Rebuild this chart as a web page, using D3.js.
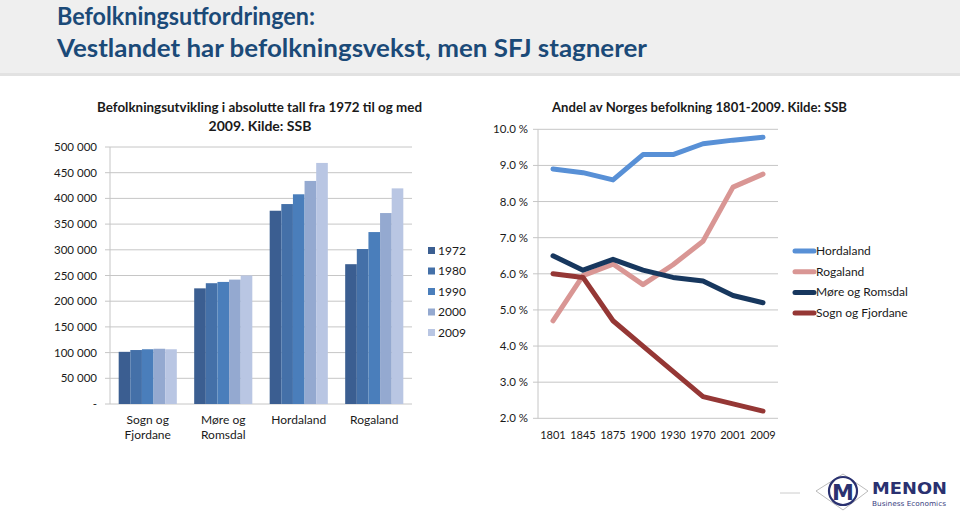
<!DOCTYPE html>
<html><head><meta charset="utf-8">
<script src="https://cdn.jsdelivr.net/npm/d3@7"></script>
<style>body{margin:0;background:#fff;} svg{display:block;} text{font-family:Lato,"Open Sans",sans-serif;}</style>
</head><body>
<svg id="c" width="960" height="515"></svg>
<script>
// ---- data ----
const regions = ["Sogn og Fjordane","Møre og Romsdal","Hordaland","Rogaland"];
const regionLabels = [["Sogn og","Fjordane"],["Møre og","Romsdal"],["Hordaland"],["Rogaland"]];
const years = ["1972","1980","1990","2000","2009"];
const pop1972 = [101500, 225000, 376000, 272000];
const pop1980 = [105000, 235000, 389000, 301500];
const pop1990 = [106500, 237500, 408000, 334500];
const pop2000 = [107500, 242000, 434000, 371500];
const pop2009 = [106500, 250000, 469000, 419500];
const popTicks = [0,50000,100000,150000,200000,250000,300000,350000,400000,450000,500000];

const shareYears = ["1801","1845","1875","1900","1930","1970","2001","2009"];
const shareHordaland = [8.9, 8.8, 8.6, 9.3, 9.3, 9.6, 9.7, 9.78];
const shareRogaland  = [4.7, 5.95, 6.27, 5.7, 6.25, 6.9, 8.4, 8.76];
const shareMore      = [6.5, 6.1, 6.4, 6.1, 5.9, 5.8, 5.4, 5.2];
const shareSogn      = [6.0, 5.9, 4.7, 4.0, 3.3, 2.6, 2.4, 2.2];
const shareTicks = [2,3,4,5,6,7,8,9,10];

const svg = d3.select("#c");
const titleColor = "#1b4a78";
const grid = "#c6c6c6";
const txt = "#1a1a1a";

// ---- header ----
svg.append("rect").attr("x",0).attr("y",0).attr("width",960).attr("height",73).attr("fill","#efefef");
svg.append("rect").attr("x",0).attr("y",73).attr("width",960).attr("height",3).attr("fill","#e2e2e2");
svg.append("text").attr("x",57).attr("y",25).attr("fill",titleColor)
  .style("font-weight","bold").style("font-size","25px")
  .attr("textLength",258).attr("lengthAdjust","spacingAndGlyphs")
  .text("Befolkningsutfordringen:");
svg.append("text").attr("x",57).attr("y",57).attr("fill",titleColor)
  .style("font-weight","bold").style("font-size","25px")
  .attr("textLength",590).attr("lengthAdjust","spacingAndGlyphs")
  .text("Vestlandet har befolkningsvekst, men SFJ stagnerer");

// ---- left chart ----
const L = {x0:110, x1:412, y0:147, y1:404};
const yL = d3.scaleLinear().domain([0,500000]).range([L.y1, L.y0]);
const xL = d3.scaleBand().domain(regions).range([L.x0, L.x1]).paddingInner(0.23).paddingOuter(0.115);
const xSub = d3.scaleBand().domain(years).range([0, xL.bandwidth()]);
const barColors = ["#3b5e91","#4470a8","#4a7ebb","#94a9d0","#b9c6e3"];
const series = [pop1972, pop1980, pop1990, pop2000, pop2009];
const gL = svg.append("g");
popTicks.forEach(t=>{
  gL.append("line").attr("x1",L.x0-5).attr("x2",L.x1).attr("y1",yL(t)).attr("y2",yL(t))
    .attr("stroke",grid).attr("stroke-width",1);
  gL.append("text").attr("x",97).attr("y",yL(t)+4).attr("text-anchor","end")
    .style("font-size","11.5px").attr("fill",txt)
    .text(t===0 ? "-" : d3.format(",")(t).replace(/,/g," "));
});
gL.append("line").attr("x1",L.x0).attr("x2",L.x0).attr("y1",L.y0).attr("y2",L.y1).attr("stroke",grid);
regions.forEach((r,i)=>{
  series.forEach((s,j)=>{
    gL.append("rect").attr("x",xL(r)+xSub(years[j])).attr("y",yL(s[i]))
      .attr("width",xSub.bandwidth()).attr("height",yL(0)-yL(s[i])).attr("fill",barColors[j]);
  });
  regionLabels[i].forEach((ln,k)=>{
    gL.append("text").attr("x",xL(r)+xL.bandwidth()/2).attr("y",424+k*15).attr("text-anchor","middle")
      .style("font-size","12px").attr("fill",txt).text(ln);
  });
});
years.forEach((y,j)=>{
  gL.append("rect").attr("x",428).attr("y",247+j*20.5).attr("width",7).attr("height",7).attr("fill",barColors[j]);
  gL.append("text").attr("x",438).attr("y",254.5+j*20.5).style("font-size","12px").attr("fill",txt).text(y);
});
gL.append("text").attr("x",97).attr("y",112).style("font-size","14px").style("font-weight","bold")
  .attr("textLength",325).attr("lengthAdjust","spacingAndGlyphs").attr("fill",txt)
  .text("Befolkningsutvikling i absolutte tall fra 1972 til og med");
gL.append("text").attr("x",260).attr("y",131).attr("text-anchor","middle").style("font-size","14px").style("font-weight","bold")
  .attr("fill",txt).text("2009. Kilde: SSB");

// ---- right chart ----
const R = {x0:538, x1:778, y0:129.3, y1:418.3};
const yR = d3.scaleLinear().domain([2,10]).range([R.y1, R.y0]);
const xR = d3.scalePoint().domain(shareYears).range([R.x0, R.x1]).padding(0.5);
const gR = svg.append("g");
shareTicks.forEach(t=>{
  gR.append("line").attr("x1",R.x0-5).attr("x2",R.x1).attr("y1",yR(t)).attr("y2",yR(t)).attr("stroke",grid);
  gR.append("text").attr("x",528).attr("y",yR(t)+4).attr("text-anchor","end")
    .style("font-size","11.5px").attr("fill",txt).text(t.toFixed(1)+" %");
});
gR.append("line").attr("x1",R.x0).attr("x2",R.x0).attr("y1",R.y0).attr("y2",R.y1).attr("stroke",grid);
shareYears.forEach(y=>{
  gR.append("text").attr("x",xR(y)).attr("y",439).attr("text-anchor","middle")
    .style("font-size","11px").attr("fill",txt).text(y);
});
const lines = [
  {name:"Hordaland", vals:shareHordaland, color:"#5890d6"},
  {name:"Rogaland", vals:shareRogaland, color:"#d99694"},
  {name:"Møre og Romsdal", vals:shareMore, color:"#17375e"},
  {name:"Sogn og Fjordane", vals:shareSogn, color:"#953735"}
];
const lineGen = d3.line().x((d,i)=>xR(shareYears[i])).y(d=>yR(d));
lines.forEach(l=>{
  gR.append("path").attr("d",lineGen(l.vals)).attr("fill","none").attr("stroke",l.color)
    .attr("stroke-width",5).attr("stroke-linejoin","round").attr("stroke-linecap","round");
});
lines.forEach((l,i)=>{
  const yy = 251+i*20.7;
  gR.append("line").attr("x1",795).attr("x2",814).attr("y1",yy).attr("y2",yy).attr("stroke",l.color)
    .attr("stroke-width",5).attr("stroke-linecap","round");
  gR.append("text").attr("x",816).attr("y",yy+4).style("font-size","12px").attr("fill",txt).text(l.name);
});
gR.append("text").attr("x",552).attr("y",112).style("font-size","14px").style("font-weight","bold")
  .attr("textLength",295).attr("lengthAdjust","spacingAndGlyphs").attr("fill",txt)
  .text("Andel av Norges befolkning 1801-2009. Kilde: SSB");

// ---- logo ----
const gLogo = svg.append("g");
gLogo.append("line").attr("x1",780).attr("x2",800).attr("y1",493).attr("y2",493).attr("stroke","#ccc");
gLogo.append("path").attr("d","M816,491 L843,474 L868,491 L843,510 Z").attr("fill","none").attr("stroke","#aaa").attr("stroke-width",0.8);
gLogo.append("circle").attr("cx",843).attr("cy",491).attr("r",14).attr("fill","#fff").attr("stroke","#2a3170").attr("stroke-width",2.2);
gLogo.append("text").attr("x",843).attr("y",499.5).attr("text-anchor","middle").style("font-size","22px").style("font-weight","900")
  .style("font-family","'DejaVu Sans',sans-serif").attr("fill","#2a3170").text("M");
gLogo.append("text").attr("x",872).attr("y",494).style("font-size","16px").style("font-weight","900")
  .attr("textLength",75).attr("lengthAdjust","spacingAndGlyphs")
  .style("font-family","'DejaVu Sans',sans-serif").attr("fill","#2a3170").text("MENON");
gLogo.append("text").attr("x",872).attr("y",506).style("font-size","7px")
  .attr("textLength",74).attr("lengthAdjust","spacingAndGlyphs")
  .style("font-family","'DejaVu Sans',sans-serif").attr("fill","#3a4080").text("Business Economics");
</script>
</body></html>
